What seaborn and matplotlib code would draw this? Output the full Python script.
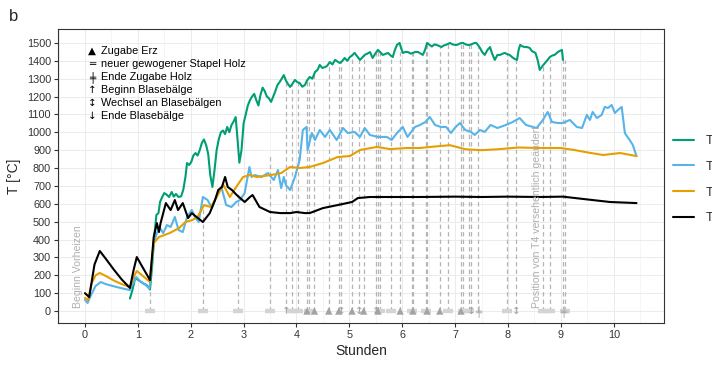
import numpy as np
import pandas as pd
import matplotlib
matplotlib.use("Agg")
import matplotlib.pyplot as plt
import seaborn as sns
from matplotlib.lines import Line2D
from matplotlib.ticker import MultipleLocator

# ---------------- data ----------------
t1_h = [0.85, 0.90, 0.95, 1.00, 1.05, 1.10, 1.15, 1.20, 1.23, 1.27, 1.31, 1.35, 1.39, 1.42, 1.46,
        1.50, 1.55, 1.59, 1.64, 1.68, 1.72, 1.77, 1.82, 1.86, 1.90, 1.93, 1.97, 2.01, 2.05, 2.09,
        2.13, 2.17, 2.21, 2.25, 2.29, 2.33, 2.37, 2.41, 2.45, 2.49, 2.53, 2.57, 2.61, 2.65, 2.69,
        2.73, 2.77, 2.81, 2.85, 2.88, 2.92, 2.96, 3.00, 3.04, 3.08, 3.12, 3.16, 3.20, 3.24, 3.28,
        3.32, 3.36, 3.40, 3.44, 3.48, 3.52, 3.56, 3.60, 3.64, 3.68, 3.72, 3.76, 3.80, 3.84, 3.88,
        3.92, 3.97, 4.02, 4.06, 4.11, 4.16, 4.20, 4.25, 4.30, 4.35, 4.40, 4.44, 4.49, 4.54, 4.58,
        4.63, 4.68, 4.73, 4.78, 4.82, 4.87, 4.91, 4.96, 5.01, 5.05, 5.10, 5.15, 5.20, 5.25, 5.29,
        5.34, 5.39, 5.44, 5.49, 5.54, 5.58, 5.63, 5.68, 5.73, 5.78, 5.82, 5.86, 5.90, 5.95, 5.98,
        6.01, 6.06, 6.11, 6.16, 6.20, 6.25, 6.30, 6.35, 6.39, 6.43, 6.47, 6.52, 6.56, 6.61, 6.65,
        6.70, 6.74, 6.78, 6.83, 6.87, 6.90, 6.95, 7.00, 7.03, 7.08, 7.12, 7.15, 7.20, 7.24, 7.28,
        7.33, 7.37, 7.40, 7.44, 7.47, 7.51, 7.56, 7.61, 7.66, 7.70, 7.75, 7.80, 7.85, 7.90, 7.94,
        7.98, 8.03, 8.08, 8.13, 8.17, 8.20, 8.23, 8.28, 8.32, 8.36, 8.41, 8.45, 8.49, 8.52, 8.56,
        8.60, 8.65, 8.70, 8.75, 8.79, 8.84, 8.88, 8.91, 8.94, 8.98, 9.02, 9.04]
t1_v = [70, 120, 185, 175, 165, 155, 148, 135, 120, 250, 414, 537, 548, 610, 638,
        660, 650, 638, 666, 640, 655, 638, 642, 680, 750, 828, 817, 834, 870, 884,
        870, 900, 940, 960, 930, 880, 760, 694, 789, 900, 960, 1000, 1010, 990, 1030,
        1000, 1040, 1060, 1085, 980, 830, 900, 1050, 1100, 1150, 1180, 1200, 1215, 1180, 1150,
        1210, 1250, 1230, 1200, 1190, 1170, 1200, 1230, 1265, 1280, 1300, 1320, 1290, 1270, 1254,
        1270, 1293, 1280, 1276, 1255, 1265, 1290, 1310, 1300, 1337, 1350, 1377, 1360, 1365, 1372,
        1393, 1380, 1405, 1395, 1388, 1400, 1416, 1400, 1421, 1430, 1444, 1425, 1405, 1420, 1433,
        1440, 1449, 1416, 1440, 1461, 1450, 1433, 1438, 1444, 1430, 1421, 1460, 1489, 1500, 1470,
        1444, 1450, 1449, 1440, 1444, 1450, 1449, 1440, 1433, 1460, 1500, 1489, 1480, 1492, 1489,
        1483, 1477, 1485, 1490, 1495, 1500, 1492, 1489, 1489, 1495, 1500, 1500, 1492, 1489, 1489,
        1495, 1500, 1500, 1485, 1472, 1450, 1433, 1460, 1477, 1440, 1405, 1433, 1433, 1440, 1444,
        1438, 1433, 1420, 1410, 1405, 1460, 1489, 1480, 1477, 1477, 1472, 1455, 1449, 1444, 1405,
        1349, 1370, 1388, 1405, 1421, 1430, 1433, 1440, 1449, 1455, 1461, 1405]

t2_h = [0.00, 0.05, 0.10, 0.20, 0.30, 0.40, 0.55, 0.70, 0.85, 0.90, 0.97, 1.05, 1.15, 1.22, 1.30,
        1.36, 1.42, 1.48, 1.55, 1.62, 1.70, 1.77, 1.85, 1.93, 2.02, 2.08, 2.15, 2.23, 2.32, 2.40,
        2.48, 2.58, 2.67, 2.77, 2.86, 2.93, 3.02, 3.11, 3.15, 3.21, 3.34, 3.46, 3.57, 3.65, 3.71,
        3.76, 3.80, 3.88, 3.97, 4.06, 4.12, 4.19, 4.21, 4.29, 4.35, 4.44, 4.54, 4.63, 4.76, 4.88,
        4.97, 5.10, 5.20, 5.29, 5.39, 5.54, 5.71, 5.80, 5.90, 6.01, 6.10, 6.24, 6.33, 6.44, 6.52,
        6.62, 6.73, 6.83, 6.92, 7.01, 7.09, 7.19, 7.30, 7.37, 7.47, 7.56, 7.67, 7.80, 7.96, 8.09,
        8.22, 8.34, 8.47, 8.54, 8.66, 8.75, 8.83, 8.94, 9.04, 9.17, 9.30, 9.40, 9.49, 9.55, 9.60,
        9.68, 9.77, 9.83, 9.89, 9.96, 10.02, 10.08, 10.15, 10.21, 10.30, 10.36, 10.43]
t2_v = [62, 45, 80, 140, 162, 150, 138, 127, 117, 150, 190, 165, 145, 125, 380,
        436, 464, 436, 481, 470, 526, 453, 442, 526, 565, 526, 498, 638, 621, 576,
        638, 694, 593, 582, 610, 621, 660, 806, 750, 761, 750, 772, 733, 789, 688,
        750, 705, 677, 750, 845, 1013, 1030, 901, 996, 957, 1013, 974, 1013, 957, 1024,
        996, 1002, 974, 1024, 985, 974, 974, 957, 996, 1030, 974, 1030, 1040, 1058, 1086,
        1041, 1030, 1030, 996, 1030, 1052, 1013, 1002, 985, 1013, 1002, 1041, 1024, 1041, 1058,
        1080, 1041, 1030, 1024, 1069, 1114, 1058, 1052, 1052, 1069, 1030, 1024, 1097, 1069, 1114,
        1080, 1097, 1142, 1136, 1153, 1108, 1125, 1142, 996, 957, 929, 867]

t3_h = [0.00, 0.06, 0.12, 0.20, 0.28, 0.40, 0.55, 0.70, 0.85, 0.92, 0.98, 1.08, 1.22, 1.30, 1.40,
        1.60, 1.78, 1.90, 2.03, 2.13, 2.25, 2.38, 2.49, 2.62, 2.74, 2.86, 2.99, 3.12, 3.25, 3.52,
        3.71, 3.88, 4.06, 4.25, 4.50, 4.78, 5.01, 5.20, 5.52, 5.77, 6.09, 6.33, 6.60, 6.90, 7.20,
        7.50, 7.80, 8.20, 8.60, 9.00, 9.25, 9.55, 9.80, 10.12, 10.43]
t3_v = [73, 62, 150, 200, 213, 195, 170, 150, 134, 190, 224, 200, 165, 380, 414,
        436, 464, 498, 509, 526, 593, 582, 638, 705, 638, 694, 750, 761, 750, 761,
        772, 806, 800, 806, 828, 862, 867, 901, 918, 906, 912, 912, 920, 928, 905,
        900, 905, 915, 912, 912, 901, 885, 873, 884, 867]

t4_h = [0.00, 0.08, 0.18, 0.28, 0.40, 0.55, 0.70, 0.85, 0.92, 0.98, 1.08, 1.23, 1.30, 1.36, 1.40,
        1.43, 1.53, 1.62, 1.70, 1.76, 1.85, 1.95, 2.02, 2.11, 2.23, 2.36, 2.46, 2.52, 2.59, 2.65,
        2.70, 2.78, 2.87, 3.02, 3.12, 3.17, 3.30, 3.50, 3.69, 3.88, 4.00, 4.16, 4.25, 4.50, 4.78,
        5.05, 5.16, 5.39, 5.77, 6.33, 7.00, 7.50, 8.00, 8.59, 9.04, 9.42, 9.93, 10.43]
t4_v = [100, 78, 260, 336, 290, 230, 175, 129, 230, 302, 250, 173, 414, 492, 442,
        492, 604, 565, 621, 565, 604, 520, 548, 526, 498, 548, 621, 677, 694, 750,
        694, 677, 649, 610, 638, 649, 582, 554, 548, 548, 554, 548, 548, 576, 593,
        610, 632, 638, 638, 638, 640, 638, 640, 638, 640, 627, 610, 604]

sensor_names = ["T1", "T2", "T3", "T4"]
sensor_colors = ["#009E73", "#56B4E9", "#E69F00", "#000000"]

event_h = [1.23, 2.23, 2.89, 3.50, 3.80, 3.92, 4.02, 4.20, 4.23, 4.34, 4.61, 4.80, 4.84, 5.05,
           5.18, 5.27, 5.50, 5.54, 5.58, 5.78, 5.96, 6.18, 6.20, 6.45, 6.47, 6.71, 6.87, 7.11,
           7.14, 7.26, 7.30, 7.43, 7.98, 8.15, 8.66, 8.79, 9.04, 9.08]
event_type = ["holz", "holz", "holz", "holz", "beginn", "holz", "holz", "erz", "holz", "erz",
              "erz", "erz", "wechsel", "erz", "wechsel", "erz", "wechsel", "erz", "holz", "holz",
              "erz", "holz", "erz", "holz", "erz", "erz", "holz", "erz", "holz", "holz",
              "wechsel", "endeholz", "holz", "wechsel", "holz", "holz", "endeholz", "holz"]
event_top = [125, 580, 665, 870, 1290, 1270, 1280, 1290, 1300, 1335, 1390, 1390, 1400, 1430,
             1415, 1430, 1450, 1461, 1450, 1430, 1480, 1440, 1444, 1480, 1500, 1480, 1495, 1500,
             1500, 1489, 1489, 1480, 1438, 1408, 1375, 1421, 1405, 1405]

legend_symbols = ["\u25B2", "\u2550", "\u256A", "\u2191", "\u2195", "\u2193"]
legend_texts = ["Zugabe Erz", "neuer gewogener Stapel Holz", "Ende Zugabe Holz",
                "Beginn Blasebälge", "Wechsel an Blasebälgen", "Ende Blasebälge"]
event_glyph = {"beginn": "\u2191", "wechsel": "\u2195", "ende": "\u2193", "endeholz": "\u256A"}

note_texts = ["Beginn Vorheizen", "Position von T4 versehentlich geändert"]
note_h = [-0.14, 8.54]

# ---------------- figure ----------------
sns.set_theme(style="whitegrid")
plt.rcParams['font.family'] = ['Liberation Sans', 'DejaVu Sans']

fig = plt.figure(figsize=(7.12, 3.66), dpi=100)
ax = fig.add_axes([58 / 712, 1 - 323 / 366, 606 / 712, 294 / 366])
ax.set_facecolor("white")

# event dashed lines
ax.vlines(event_h, 0, event_top, colors="#b5b5b5", linestyles=(0, (3.5, 2.5)), lw=0.9, zorder=2)

# temperature curves
frames = []
for name, hh, vv in zip(sensor_names, [t1_h, t2_h, t3_h, t4_h], [t1_v, t2_v, t3_v, t4_v]):
    frames.append(pd.DataFrame({"Stunden": hh, "T": vv, "Sensor": name}))
df = pd.concat(frames, ignore_index=True)
sns.lineplot(data=df, x="Stunden", y="T", hue="Sensor", palette=dict(zip(sensor_names, sensor_colors)),
             estimator=None, sort=False, lw=1.5, ax=ax, legend=False, zorder=3)

# event markers at y=0
ev = pd.DataFrame({"h": event_h, "type": event_type, "y": 0})
sns.scatterplot(data=ev[ev.type == "holz"], x="h", y="y", marker="_", color="#d4d4d4", s=45,
                linewidth=3.2, ax=ax, zorder=4)
sns.scatterplot(data=ev[ev.type == "erz"], x="h", y="y", marker="^", color="#a3a3a3", s=28,
                edgecolor="none", ax=ax, zorder=5)
for h, t in zip(event_h, event_type):
    if t in event_glyph:
        ax.text(h, 0, event_glyph[t], ha="center", va="center", fontsize=7.5, color="#a3a3a3",
                family=["DejaVu Sans"], zorder=5)

# rotated notes
for h, txt in zip(note_h, note_texts):
    ax.text(h, 15, txt, rotation=90, ha="center", va="bottom", fontsize=7.6, color="#b0b0b0", zorder=4)

# symbol legend (upper left)
for i, (sym, txt) in enumerate(zip(legend_symbols, legend_texts)):
    yy = 0.925 - i * 0.0445
    ax.text(0.056, yy, sym, transform=ax.transAxes, ha="center", va="center", fontsize=7.5,
            color="black", family=["DejaVu Sans"])
    ax.text(0.071, yy, txt, transform=ax.transAxes, ha="left", va="center", fontsize=7.8, color="black")

# axes styling
ax.set_xlim(-0.51, 10.95)
ax.set_ylim(-67, 1578)
ax.xaxis.set_major_locator(MultipleLocator(1))
ax.xaxis.set_minor_locator(MultipleLocator(0.5))
ax.yaxis.set_major_locator(MultipleLocator(100))
ax.grid(which="major", color="#ebebeb", lw=0.7)
ax.grid(which="minor", axis="x", color="#f0f0f0", lw=0.45)
ax.set_axisbelow(True)
for s in ax.spines.values():
    s.set_visible(True)
    s.set_color("#333333")
    s.set_linewidth(0.8)
ax.tick_params(axis="both", which="major", length=3, width=0.8, color="#333333",
               labelsize=7.8, labelcolor="#333333", pad=2, bottom=True, left=True)
ax.tick_params(axis="both", which="minor", length=0)
ax.set_xlabel("Stunden", fontsize=10, labelpad=3)
ax.set_ylabel("T [°C]", fontsize=10, labelpad=4)

fig.text(0.012, 0.975, "b", fontsize=12, va="top", ha="left")

handles = [Line2D([0], [0], color=c, lw=1.5) for c in sensor_colors]
fig.legend(handles, sensor_names, loc="upper left", bbox_to_anchor=(673 / 712, 1 - 135 / 366),
           frameon=False, fontsize=9, handlelength=1.7, handletextpad=0.95, labelspacing=1.1,
           borderpad=0, borderaxespad=0)

fig.savefig("out.png", dpi=100)
